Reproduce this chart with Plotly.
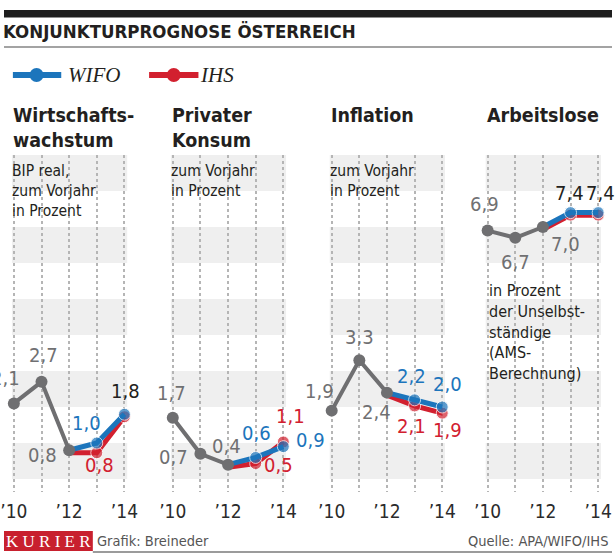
import plotly.graph_objects as go

# ---------------- data ----------------
HIST_YEARS = [2010, 2011, 2012]
FC_YEARS = [2012, 2013, 2014]
TICK_YEARS = [2010, 2011, 2012, 2013, 2014]
TICK_LABELS = ["’10", "", "’12", "", "’14"]

hist_gdp = [2.1, 2.7, 0.8]
wifo_gdp = [0.8, 1.0, 1.8]
ihs_gdp = [0.8, 0.8, 1.8]

hist_cons = [1.7, 0.7, 0.4]
wifo_cons = [0.4, 0.6, 0.9]
ihs_cons = [0.4, 0.5, 1.1]

hist_infl = [1.9, 3.3, 2.4]
wifo_infl = [2.4, 2.2, 2.0]
ihs_infl = [2.4, 2.1, 1.9]

hist_unemp = [6.9, 6.7, 7.0]
wifo_unemp = [7.0, 7.4, 7.4]
ihs_unemp = [7.0, 7.4, 7.4]

TITLE = "KONJUNKTURPROGNOSE ÖSTERREICH"
PANEL_TITLES = [["Wirtschafts-", "wachstum"], ["Privater", "Konsum"], ["Inflation"], ["Arbeitslose"]]
PANEL_NOTES = [["BIP real,", "zum Vorjahr", "in Prozent"],
               ["zum Vorjahr", "in Prozent"],
               ["zum Vorjahr", "in Prozent"],
               ["in Prozent", "der Unselbst-", "ständige", "(AMS-", "Berechnung)"]]
SERIES_NAMES = ["WIFO", "IHS"]

# ---------------- style ----------------
W, H = 616, 554
FONT = "Liberation Sans Narrow, DejaVu Sans Condensed, Arial Narrow, Roboto, sans-serif"
SERIF = "Liberation Serif, DejaVu Serif, serif"
BLUE = "#1c75bc"
RED = "#d2202f"
GREY = "#6f6f71"
LABEL_GREY = "#707072"
DARK = "#231f20"
BAND = "#efefef"
IHS_VIS_OFFSET = 0.07   # drawing offset so coincident points show both colours

PANEL_X0 = [10, 171, 332, 490]   # pixel of 2010 in each panel
PX_PER_YEAR = 28
PLOT_TOP, PLOT_BOTTOM = 155, 492
Y_RANGE = [-0.36, 9.0]


def py(px):
    return 1 - px / H


def pxx(px):
    return px / W


panels = [
    (hist_gdp, wifo_gdp, ihs_gdp),
    (hist_cons, wifo_cons, ihs_cons),
    (hist_infl, wifo_infl, ihs_infl),
    (hist_unemp, wifo_unemp, ihs_unemp),
]

# label placement: (series, index, colour, dx, dy, xanchor)
LABELS = [
    [("h", 0, LABEL_GREY, 8, 25, "right"), ("h", 1, LABEL_GREY, 2, 27, "center"),
     ("h", 2, LABEL_GREY, -10, -5, "right"), ("w", 1, BLUE, -10, 20, "center"),
     ("i", 1, RED, 3, -15, "center"), ("w", 2, DARK, 1, 23, "center")],
    [("h", 0, LABEL_GREY, -1, 25, "center"), ("h", 1, LABEL_GREY, -10, -3, "right"),
     ("h", 2, LABEL_GREY, -2, 19, "center"), ("w", 1, BLUE, 1, 24, "center"),
     ("i", 2, RED, 7, 23, "center"), ("i", 1, RED, 23, -4, "center"),
     ("w", 2, BLUE, 11, 7, "left")],
    [("h", 0, LABEL_GREY, -12, 20, "center"), ("h", 1, LABEL_GREY, 0, 23, "center"),
     ("h", 2, LABEL_GREY, -10, -19, "center"), ("w", 1, BLUE, -3, 24, "center"),
     ("i", 1, RED, -3, -23, "center"), ("w", 2, BLUE, 5, 23, "center"),
     ("i", 2, RED, 5, -19, "center")],
    [("h", 0, LABEL_GREY, -3, 27, "center"), ("h", 1, LABEL_GREY, 0, -24, "center"),
     ("h", 2, LABEL_GREY, 23, -17, "center"), ("w", 1, DARK, -1, 20, "center"),
     ("w", 2, DARK, 2, 20, "center")],
]

fig = go.Figure()
shapes = []
annotations = []
layout_axes = {}

for i, (hist, wifo, ihs) in enumerate(panels):
    n = "" if i == 0 else str(i + 1)
    xref = "x" + n
    p0 = PANEL_X0[i]
    left_px = p0 - 10
    right_px = min(p0 + 4 * PX_PER_YEAR + 10, W - 2)
    xr = [2010 - (p0 - left_px) / PX_PER_YEAR, 2014 + (right_px - p0 - 4 * PX_PER_YEAR) / PX_PER_YEAR]
    layout_axes["xaxis" + n] = dict(
        domain=[pxx(left_px), pxx(right_px)], range=xr, anchor="y",
        tickmode="array", tickvals=TICK_YEARS, ticktext=TICK_LABELS,
        showgrid=True, gridcolor="#b5b5b5", griddash="dot", gridwidth=1.5,
        zeroline=False, showline=False, ticks="", ticklabelstandoff=6,
        ticklabeloverflow="allow",
        tickfont=dict(family=FONT, size=19, color="#2b2b2b"), fixedrange=True,
    )
    # background bands
    for k in range(0, 9, 2):
        shapes.append(dict(type="rect", xref=xref, yref="y", x0=2009.93, x1=2014.1,
                           y0=k, y1=k + 1, fillcolor=BAND, line=dict(width=0), layer="below"))

    fig.add_trace(go.Scatter(x=FC_YEARS, y=[v - IHS_VIS_OFFSET for v in ihs], xaxis=xref, yaxis="y",
                             mode="lines+markers", line=dict(color=RED, width=5),
                             marker=dict(color=RED, size=[0, 12, 12]), showlegend=False, hoverinfo="skip"))
    fig.add_trace(go.Scatter(x=FC_YEARS, y=wifo, xaxis=xref, yaxis="y",
                             mode="lines+markers", line=dict(color=BLUE, width=5),
                             marker=dict(color=BLUE, size=[0, 12, 12]), showlegend=False, hoverinfo="skip"))
    fig.add_trace(go.Scatter(x=HIST_YEARS, y=hist, xaxis=xref, yaxis="y",
                             mode="lines+markers", line=dict(color=GREY, width=4),
                             marker=dict(color=GREY, size=12), showlegend=False, hoverinfo="skip"))

    series = {"h": (HIST_YEARS, hist), "w": (FC_YEARS, wifo), "i": (FC_YEARS, ihs)}
    for key, idx, col, dx, dy, xa in LABELS[i]:
        xs, ys = series[key]
        annotations.append(dict(x=xs[idx], y=ys[idx], xref=xref, yref="y",
                                text=f"{ys[idx]:.1f}".replace(".", ","), showarrow=False,
                                xanchor=xa, yanchor="middle", xshift=dx, yshift=dy,
                                font=dict(family=FONT, size=20, color=col)))

    # panel titles
    annotations.append(dict(x=pxx(p0 - 3), y=py(102), xref="paper", yref="paper",
                            text="<br>".join(f"<b>{t}</b>" for t in PANEL_TITLES[i]),
                            showarrow=False, xanchor="left", yanchor="top", align="left",
                            font=dict(family=FONT, size=19.5, color=DARK)))
    # notes
    if i < 3:
        annotations.append(dict(x=pxx(p0 - 4), y=py(160), xref="paper", yref="paper",
                                text="<br>".join(PANEL_NOTES[i]), showarrow=False,
                                xanchor="left", yanchor="top", align="left",
                                font=dict(family=FONT, size=15.5, color=DARK)))
    else:
        annotations.append(dict(x=pxx(p0 - 1), y=py(279), xref="paper", yref="paper",
                                text="<br>".join(PANEL_NOTES[i]), showarrow=False,
                                xanchor="left", yanchor="top", align="left",
                                font=dict(family=FONT, size=16, color=DARK)))

# header
shapes.append(dict(type="rect", xref="paper", yref="paper", x0=0, x1=1, y0=py(17.5), y1=py(10),
                   fillcolor="#1e1e1e", line=dict(width=0)))
shapes.append(dict(type="line", xref="paper", yref="paper", x0=0, x1=1, y0=py(47), y1=py(47),
                   line=dict(color="#a3a3a3", width=2)))
annotations.append(dict(x=0, y=py(31), xref="paper", yref="paper", text=f"<b>{TITLE}</b>",
                        showarrow=False, xanchor="left", yanchor="middle", xshift=-3,
                        font=dict(family=FONT, size=18.5, color=DARK)))

# legend
for (name, col, lx0, lx1, cx, tx) in [(SERIES_NAMES[0], BLUE, 9, 58, 33, 63),
                                      (SERIES_NAMES[1], RED, 147, 197, 172, 197)]:
    shapes.append(dict(type="line", xref="paper", yref="paper", x0=pxx(lx0), x1=pxx(lx1),
                       y0=py(75), y1=py(75), line=dict(color=col, width=6)))
    shapes.append(dict(type="circle", xref="paper", yref="paper", x0=pxx(cx - 7), x1=pxx(cx + 7),
                       y0=py(82), y1=py(68), fillcolor=col, line=dict(width=0)))
    annotations.append(dict(x=pxx(tx), y=py(75), xref="paper", yref="paper", text=f"<i>{name}</i>",
                            showarrow=False, xanchor="left", yanchor="middle",
                            font=dict(family=SERIF, size=21, color=DARK)))

# footer
shapes.append(dict(type="rect", xref="paper", yref="paper", x0=0, x1=pxx(90), y0=py(551), y1=py(531),
                   fillcolor="#c8202e", line=dict(width=0)))
shapes.append(dict(type="line", xref="paper", yref="paper", x0=pxx(90), x1=1, y0=py(552), y1=py(552),
                   line=dict(color="#7a7a7a", width=1.5)))
annotations.append(dict(x=pxx(45), y=py(541), xref="paper", yref="paper", text="K U R I E R",
                        showarrow=False, xanchor="center", yanchor="middle",
                        font=dict(family=SERIF, size=17, color="white")))
annotations.append(dict(x=pxx(92), y=py(541), xref="paper", yref="paper", text="Grafik: Breineder",
                        showarrow=False, xanchor="left", yanchor="middle",
                        font=dict(family=FONT, size=14.5, color="#555555")))
annotations.append(dict(x=pxx(614), y=py(541), xref="paper", yref="paper", text="Quelle: APA/WIFO/IHS",
                        showarrow=False, xanchor="right", yanchor="middle",
                        font=dict(family=FONT, size=14.5, color="#555555")))

fig.update_layout(
    width=W, height=H, margin=dict(l=0, r=0, t=0, b=0),
    paper_bgcolor="white", plot_bgcolor="rgba(0,0,0,0)",
    showlegend=False, shapes=shapes, annotations=annotations,
    yaxis=dict(domain=[py(PLOT_BOTTOM), py(PLOT_TOP)], range=Y_RANGE, visible=False,
               showgrid=False, zeroline=False, fixedrange=True),
    **layout_axes,
)

fig.write_html("out.html", config={"displayModeBar": False})
